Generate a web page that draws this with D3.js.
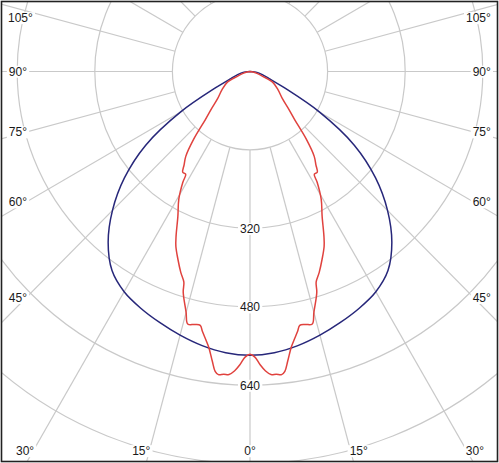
<!DOCTYPE html>
<html><head><meta charset="utf-8">
<script src="https://cdn.jsdelivr.net/npm/d3@7"></script>
<style>body{margin:0;background:#fff}svg{display:block}</style>
</head><body>
<svg id="chart" width="499" height="463"></svg>
<script>
// ---- data ----
const ringValues = [160, 320, 480, 640, 800];
const ringLabels = [320, 480, 640];
const spokeAngles = [-180,-165,-150,-135,-120,-105,-90,-75,-60,-45,-30,-15,0,15,30,45,60,75,90,105,120,135,150,165];
const angleLabels = [-105,-90,-75,-60,-45,-30,-15,0,15,30,45,60,75,90,105];

// C0-C180 plane (blue), gamma in degrees, intensity in cd
const blueGamma = [0,5,10,15,20,25,30,35,40,45,50,55,60,65,70,75,80,85,90];
const blueCd    = [579,576,568,557,545,533,519,496,455,401,338,263,165,77,42,28,19,10,0];

// C90-C270 plane (red)
const redGamma = [0,1,2,3,4,5,6,6.7,7.5,8.6,9.5,10.5,11.2,12.5,14,15,17,17.6,19.2,21.2,23.2,24.4,26.7,29.4,31.5,32.3,34,35.5,37.4,40,43.2,46.5,50,57.5,64.7,69.2,75,82,90];
const redCd    = [577,583,599,612,620,620,622,616,596,569,554,539,528,529,531,509,471,451,434,411,388,369,331,299,265,248,248,234,218,181,134,108,88,68,52,29,15,6,0];

// ---- layout ----
const W = 499, H = 463;
const cx = 250, cy = 71.5;
const kx = 77.6/160, ky = 78.4/160;
const xS = d3.scaleLinear().domain([-800, 800]).range([cx - 800*kx, cx + 800*kx]);
const yS = d3.scaleLinear().domain([-800, 800]).range([cy - 800*ky, cy + 800*ky]);
const rad = d => d*Math.PI/180;

const svg = d3.select("#chart");
const defs = svg.append("defs");
defs.append("clipPath").attr("id","frameClip").append("rect")
  .attr("x",2).attr("y",2).attr("width",W-4).attr("height",H-4);

const g = svg.append("g").attr("clip-path","url(#frameClip)");
const grid = "#c9c9c9";

// spokes
g.append("g").selectAll("line").data(spokeAngles).join("line")
  .attr("x1", a => xS(ringValues[0]*Math.sin(rad(a))))
  .attr("y1", a => yS(ringValues[0]*Math.cos(rad(a))))
  .attr("x2", a => xS(1400*Math.sin(rad(a))))
  .attr("y2", a => yS(1400*Math.cos(rad(a))))
  .attr("stroke", grid).attr("stroke-width", 1.2);

// rings
g.append("g").selectAll("ellipse").data(ringValues).join("ellipse")
  .attr("cx", xS(0)).attr("cy", yS(0))
  .attr("rx", v => xS(v) - xS(0)).attr("ry", v => yS(v) - yS(0))
  .attr("fill", (v,i) => i === 0 ? "#fff" : "none")
  .attr("stroke", grid).attr("stroke-width", 1.2);

// curves
function curvePoints(gam, cd) {
  const pts = [];
  for (let i = gam.length - 1; i >= 0; i--) pts.push([-gam[i], cd[i]]);
  for (let i = 1; i < gam.length; i++) pts.push([gam[i], cd[i]]);
  return pts;
}
const line = d3.line()
  .x(d => xS(d[1]*Math.sin(rad(d[0]))))
  .y(d => yS(d[1]*Math.cos(rad(d[0]))))
  .curve(d3.curveCatmullRom.alpha(0.5));

g.append("path").attr("d", line(curvePoints(blueGamma, blueCd)))
  .attr("fill","none").attr("stroke","#27277a").attr("stroke-width",1.5);
g.append("path").attr("d", line(curvePoints(redGamma, redCd)))
  .attr("fill","none").attr("stroke","#e0423e").attr("stroke-width",1.5);

// labels helper
const font = "'Liberation Sans', Arial, sans-serif";
function addLabel(parent, x, y, text, anchor, clampX) {
  const lg = parent.append("g");
  const bg = lg.append("rect").attr("fill","#fff");
  const t = lg.append("text").attr("x", x).attr("y", y).attr("dy","0.35em")
    .attr("text-anchor", anchor).attr("font-family", font).attr("font-size", 12)
    .attr("fill", "#1a1a1a").text(text);
  let bb = t.node().getBBox();
  if (clampX) {
    let shift = 0;
    if (bb.x < 8) shift = 8 - bb.x;
    if (bb.x + bb.width > 491) shift = 491 - (bb.x + bb.width);
    if (shift) { t.attr("x", x + shift); bb = t.node().getBBox(); }
  }
  bg.attr("x", bb.x - 2).attr("y", bb.y + 1).attr("width", bb.width + 4).attr("height", bb.height - 2);
}

const labG = svg.append("g");
// radius labels
ringLabels.forEach(v => addLabel(labG, xS(0), yS(v) + 0.5, String(v), "middle", false));

// angle labels
const xL = 26, xR = 474, yB = 451;
angleLabels.forEach(a => {
  const s = Math.sin(rad(a)), c = Math.cos(rad(a));
  const dx = kx*s, dy = ky*c;
  let ts = [];
  if (dx < 0) ts.push((xL - cx)/dx);
  if (dx > 0) ts.push((xR - cx)/dx);
  if (dy > 0) ts.push((yB - cy)/dy);
  const t = Math.min(...ts);
  let px = cx + t*dx, py = cy + t*dy;
  if (py < 18) py = 18;
  let anchor = "middle";
  if (a < 0) { anchor = "end"; px = px + 1; }
  if (a > 0) { anchor = "start"; px = px - 1; }
  addLabel(labG, px, py, Math.abs(a) + "°", anchor, true);
});

// frame
svg.append("rect").attr("x",1.5).attr("y",1.5).attr("width",W-3).attr("height",H-3)
  .attr("fill","none").attr("stroke","#222").attr("stroke-width",1.6);
</script>
</body></html>
